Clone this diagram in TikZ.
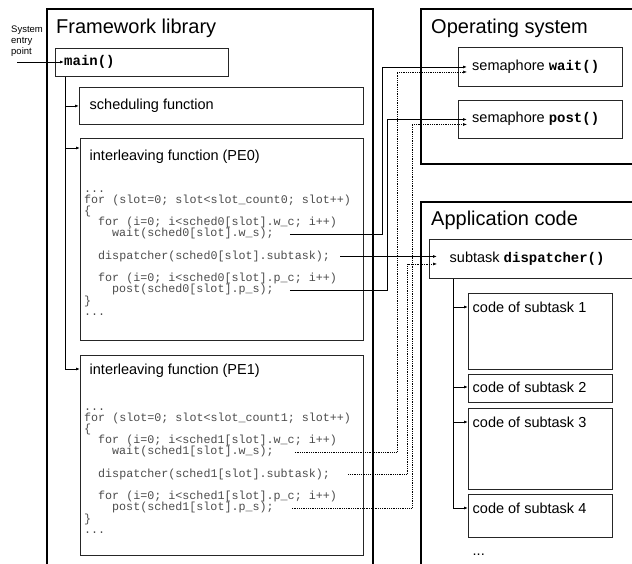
\documentclass[tikz,border=0pt]{standalone}
\usepackage{fontspec}
\setmainfont{Liberation Sans}
\newfontfamily\codefont{Liberation Mono}
\usepackage{tikz}
\usetikzlibrary{arrows.meta}

\newcommand{\fncall}[1]{{\codefont\bfseries\fontsize{14}{17}\selectfont #1}}

\begin{document}
\begin{tikzpicture}[x=1pt, y=-1pt,
    frame/.style={draw, line width=1.6pt, anchor=north west, inner sep=0},
    box/.style={draw=black!85, line width=0.9pt, anchor=north west, inner sep=0},
    head/.style={font=\fontsize{20}{24}\selectfont, anchor=base west, inner sep=0},
    lbl/.style={font=\fontsize{14.5}{17}\selectfont, anchor=west, inner sep=0},
    code/.style={font=\codefont\fontsize{11.7}{12}\selectfont, text=black!70, anchor=base west, inner sep=0, text height=8pt, text depth=2.5pt},
    arr/.style={-{Latex[length=4pt,width=3pt]}, line width=0.8pt},
    dotline/.style={densely dotted, line width=0.6pt}
]
    \useasboundingbox (0,0) rectangle (632,563);
    \clip (0,0) rectangle (632,563);

    % outer frames
    \node[frame, minimum width=326pt, minimum height=620pt] (fw) at (46,8) {};
    \node[frame, minimum width=230pt, minimum height=155pt] (os) at (420,8) {};
    \node[frame, minimum width=230pt, minimum height=420pt] (app) at (420,201) {};
    \node[head] (fwt) at (56,33) {Framework library};
    \node[head] (ost) at (431,33) {Operating system};
    \node[head] (appt) at (431,225) {Application code};

    % framework library
    \node[font=\fontsize{9.5}{10.7}\selectfont, align=left, anchor=north west, inner sep=0] (entryt) at (11,26) {System\\entry\\point};
    \node[box, minimum width=173pt, minimum height=28pt] (main) at (55,48) {};
    \node[anchor=west, inner sep=0] (maint) at (64,62) {\fncall{main()}};
    \node[box, minimum width=284pt, minimum height=37pt] (sched) at (79,87) {};
    \node[lbl] (schedt) at (89.5,105.5) {scheduling function};
    \node[box, minimum width=283pt, minimum height=202pt] (pe0) at (80,138) {};
    \node[lbl, anchor=base west] (pe0t) at (89.5,160) {interleaving function (PE0)};
    \node[box, minimum width=283pt, minimum height=200pt] (pe1) at (80,355) {};
    \node[lbl, anchor=base west] (pe1t) at (89.5,374) {interleaving function (PE1)};

    \foreach \p/\y in {0/192,1/410} {
        \node[code] (top\p) at (84,\y) {...};
        \node[code] (for\p) at (84,\y+11.2) {for (slot=0; slot<slot\_count\p; slot++)};
        \node[code] (open\p) at (84,\y+22.4) {\{};
        \node[code] (loopw\p) at (98,\y+33.6) {for (i=0; i<sched\p[slot].w\_c; i++)};
        \node[code] (wait\p) at (112,\y+44.8) {wait(sched\p[slot].w\_s);};
        \node[code] (disp\p) at (98,\y+67.2) {dispatcher(sched\p[slot].subtask);};
        \node[code] (loopp\p) at (98,\y+89.6) {for (i=0; i<sched\p[slot].p\_c; i++)};
        \node[code] (post\p) at (112,\y+100.8) {post(sched\p[slot].p\_s);};
        \node[code] (close\p) at (84,\y+112) {\}};
        \node[code] (end\p) at (84,\y+123.2) {...};
    }

    % operating system
    \node[box, minimum width=164pt, minimum height=39pt] (semwait) at (458,47) {};
    \node[lbl] (semwaitt) at (472,66.5) {semaphore \fncall{wait()}};
    \node[box, minimum width=164pt, minimum height=38pt] (sempost) at (458,100) {};
    \node[lbl] (sempostt) at (472,119) {semaphore \fncall{post()}};

    % application code
    \node[box, minimum width=205pt, minimum height=39pt] (disp) at (429,239) {};
    \node[lbl] (dispt) at (449.5,258.5) {subtask \fncall{dispatcher()}};
    \node[box, minimum width=144pt, minimum height=76pt] (st1) at (468,293) {};
    \node[lbl] (st1t) at (472.5,307) {code of subtask 1};
    \node[box, minimum width=144pt, minimum height=28pt] (st2) at (468,374) {};
    \node[lbl] (st2t) at (472.5,387) {code of subtask 2};
    \node[box, minimum width=144pt, minimum height=81pt] (st3) at (468,408) {};
    \node[lbl] (st3t) at (472.5,422) {code of subtask 3};
    \node[box, minimum width=144pt, minimum height=43pt] (st4) at (468,494) {};
    \node[lbl] (st4t) at (472.5,508) {code of subtask 4};
    \node[lbl, anchor=base west] (more) at (472.5,555) {...};

    % calls inside the framework
    \coordinate (entry) at (17,62);
    \draw[arr] (entry) -- (maint.west);
    \coordinate (mbus) at ([xshift=10pt]main.south west);
    \coordinate (pe0in) at ([yshift=-10pt]pe0.north west);
    \draw[arr] (mbus) |- ([yshift=-14pt]pe1.north west);
    \draw[arr] (mbus |- sched.west) -- (sched.west);
    \draw[arr] (mbus |- pe0in) -- (pe0in);

    % calls from PE0 (solid) and PE1 (dotted)
    \draw[arr] ([xshift=16pt]wait0.east) -| ([xshift=-76pt]semwait.west) -- ([xshift=9pt]semwait.west);
    \draw[arr] ([xshift=16pt]post0.east) -| ([xshift=-71pt]sempost.west) -- ([xshift=9pt]sempost.west);
    \draw[arr] ([xshift=10pt]disp0.east) -- ([xshift=8pt]disp.west |- disp0.east);
    \draw[arr, dotline] ([xshift=21pt]wait1.east) -| ([shift={(-61pt,-5pt)}]semwait.west) -- ([shift={(9pt,-5pt)}]semwait.west);
    \draw[arr, dotline] ([xshift=18pt]disp1.east) -| ([shift={(-22pt,-5pt)}]disp.west) -- ([shift={(8pt,-5pt)}]disp.west);
    \draw[arr, dotline] ([xshift=18pt]post1.east) -| ([shift={(-46pt,-5pt)}]sempost.west) -- ([shift={(9pt,-5pt)}]sempost.west);

    % dispatcher to subtasks
    \coordinate (dbus) at ([xshift=24pt]disp.south west);
    \draw[arr] (dbus) |- (st4.west |- st4t.west);
    \draw[arr] (dbus |- st1t.west) -- (st1.west |- st1t.west);
    \draw[arr] (dbus |- st2t.west) -- (st2.west |- st2t.west);
    \draw[arr] (dbus |- st3t.west) -- (st3.west |- st3t.west);
\end{tikzpicture}
\end{document}
